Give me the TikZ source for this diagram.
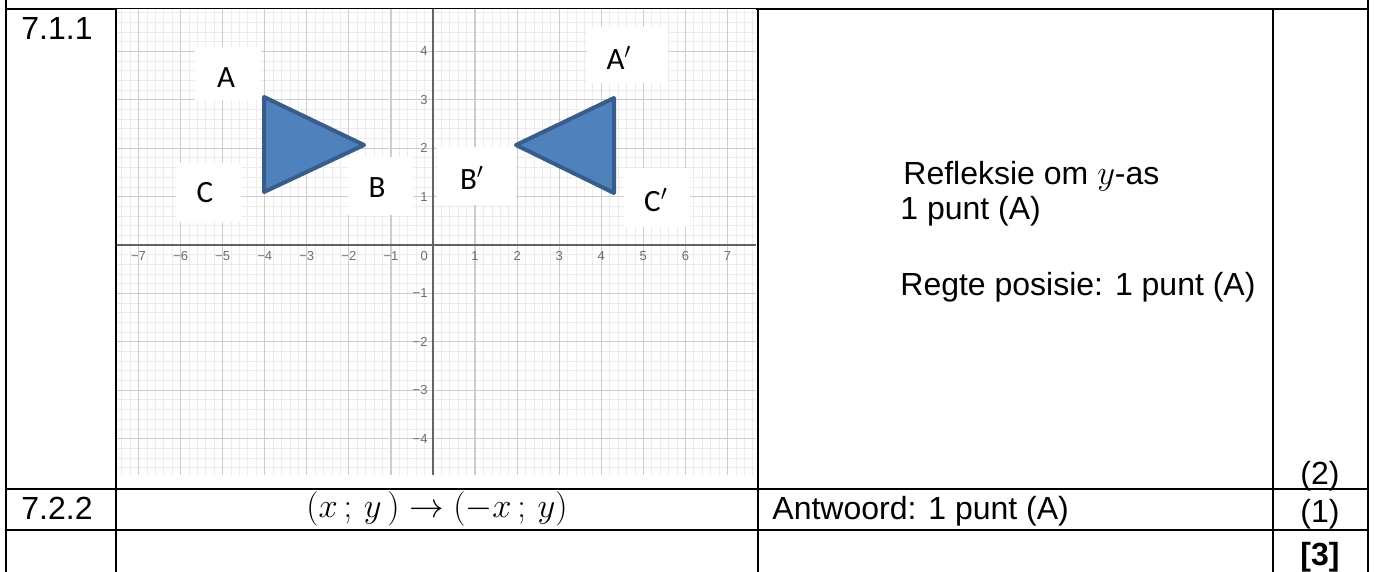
\documentclass[tikz,border=0pt]{standalone}
\usepackage{fontspec}
\setmainfont{Liberation Sans}
\newfontfamily\lblfont{Carlito}
\usepackage{xcolor}
\usepackage{tikz}
\usetikzlibrary{arrows.meta,positioning}
\definecolor{triblue}{RGB}{79,129,189}
\definecolor{triedge}{RGB}{56,93,138}
\definecolor{gridminor}{RGB}{236,236,236}
\definecolor{gridmajor}{RGB}{205,205,205}
\definecolor{axisgray}{RGB}{100,100,100}
\definecolor{ticktext}{RGB}{110,110,110}

\begin{document}
\begin{tikzpicture}[x=0.5pt, y=-0.5pt,
  tline/.style={line width=1.3pt},
  celltext/.style={font=\fontsize{16}{19}\selectfont, inner sep=0pt},
  ptlabel/.style={font=\lblfont\fontsize{15.5}{18}\selectfont, inner sep=0pt},
  ticklabel/.style={font=\fontsize{6.5}{7}\selectfont, text=ticktext, inner sep=0pt},
  minorline/.style={color=gridminor, line width=0.4pt},
  majorline/.style={color=gridmajor, line width=0.6pt},
  axisline/.style={color=axisgray, line width=0.7pt},
  triangle/.style={fill=triblue, draw=triedge, line width=2pt, line join=round}]
\useasboundingbox (0,0) rectangle (1375,572);

% table rules
\draw[tline] (6,0) -- (6,572);
\draw[tline] (1368,0) -- (1368,572);
\draw[tline] (6,9) -- (1368,9);
\draw[tline] (116,9) -- (116,572);
\draw[tline] (758,9) -- (758,572);
\draw[tline] (1273,9) -- (1273,572);
\draw[tline] (6,489) -- (1368,489);
\draw[tline] (6,530) -- (1368,530);

% coordinate grid
\begin{scope}[shift={(433,245)}, x=21.035pt, y=24.2pt]
\fill[white] (-7.51,-4.75) rectangle (7.68,4.88);
\foreach \i in {-37,...,38} \draw[minorline] (\i/5,-4.75) -- (\i/5,4.88);
\foreach \j in {-23,...,24} \draw[minorline] (-7.51,\j/5) -- (7.68,\j/5);
\foreach \i in {-7,...,7} \draw[majorline] (\i,-4.75) -- (\i,4.88);
\foreach \j in {-4,...,4} \draw[majorline] (-7.51,\j) -- (7.68,\j);
\draw[axisline] (-7.51,0) -- (7.68,0);
\draw[axisline] (0,-4.75) -- (0,4.88);
\foreach \i in {1,...,7} {
  \node[ticklabel] (xneg\i) at (-\i,-0.23) {−\i};
  \node[ticklabel] (xpos\i) at (\i,-0.23) {\i};
}
\foreach \j in {1,...,4} {
  \node[ticklabel, anchor=east] (ypos\j) at (-0.12,\j) {\j};
  \node[ticklabel, anchor=east] (yneg\j) at (-0.12,-\j) {−\j};
}
\node[ticklabel] (orig) at (-0.21,-0.23) {0};
\end{scope}

% white label patches
\fill[white] (195,47) rectangle (261,100);
\fill[white] (176,163) rectangle (241,222);
\fill[white] (348,157) rectangle (413,215);
\fill[white] (437,147) rectangle (516,205);
\fill[white] (587,27) rectangle (668,83);
\fill[white] (624,168) rectangle (690,227);

% triangles
\filldraw[triangle] (264,97) -- (364,145) -- (264,192) -- cycle;
\filldraw[triangle] (614,98) -- (516,145) -- (614,193) -- cycle;

\node[ptlabel] (labA) at (226,78) {A};
\node[ptlabel] (labB) at (377,188) {B};
\node[ptlabel] (labC) at (205,193) {C};
\node[ptlabel] (labBp) at (472,178) {B$'$};
\node[ptlabel] (labAp) at (619,58) {A$'$};
\node[ptlabel] (labCp) at (656,200) {C$'$};

% cell texts
\node[celltext, anchor=base west] (num711) at (21,40) {7.1.1};
\node[celltext, anchor=base west] (num722) at (21,519) {7.2.2};
\node[celltext, anchor=base] (rule) at (437,517) {$(x\,;\,y\,)\rightarrow(-x\,;\,y)$};
\node[celltext, anchor=base west] (antw) at (772,519) {Antwoord: 1 punt (A)};
\node[celltext, anchor=base west] (refl) at (903,185) {Refleksie om $y$-as};
\node[celltext, anchor=base west] (punt1) at (900,220) {1 punt (A)};
\node[celltext, anchor=base west] (regte) at (900,295) {Regte posisie: 1 punt (A)};
\node[celltext, anchor=base] (mark2) at (1320,484) {(2)};
\node[celltext, anchor=base] (mark1) at (1320,522) {(1)};
\node[celltext, anchor=base, font=\fontsize{16}{19}\selectfont\bfseries] (total) at (1320,565) {[3]};
\end{tikzpicture}
\end{document}
